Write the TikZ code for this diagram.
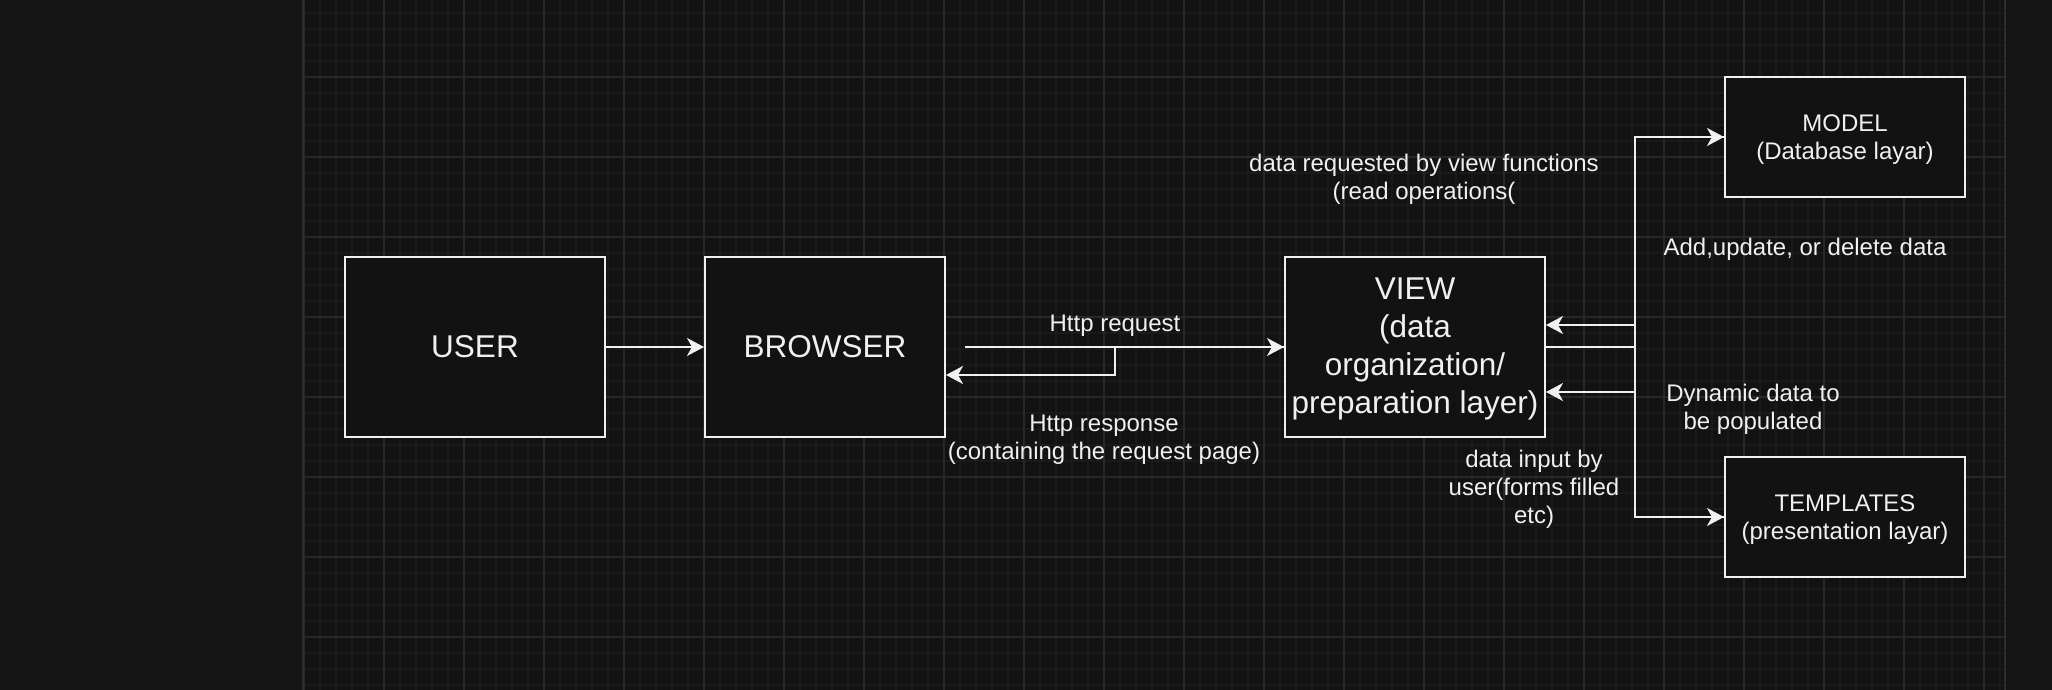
\documentclass[tikz,border=0pt]{standalone}
\usepackage{fontspec}
\setmainfont{Liberation Sans}
\usetikzlibrary{arrows.meta}
\definecolor{outerbg}{HTML}{151515}
\definecolor{canvasbg}{HTML}{121212}
\definecolor{majorgrid}{HTML}{282828}
\definecolor{minorgrid}{HTML}{1A1A1A}
\definecolor{edgeline}{HTML}{2E2E2E}
\definecolor{ink}{HTML}{F0F0F0}
\tikzset{
  box/.style={draw=ink, fill=canvasbg, line width=1pt, inner sep=0pt, text=ink, align=center},
  bigtext/.style={font=\fontsize{15.75}{19}\selectfont},
  smalltext/.style={font=\fontsize{12}{14}\selectfont},
  lbl/.style={smalltext, text=ink, align=center, inner sep=0pt},
  boxtext/.style={text=ink, align=center, inner sep=0pt},
  conn/.style={draw=ink, line width=1pt, -{Stealth[length=8.5pt, width=9pt, inset=2.5pt]}},
}
\begin{document}
\begin{tikzpicture}[x=0.5pt, y=-0.5pt]
\useasboundingbox (0,0) rectangle (2052,690);
\fill[outerbg] (0,0) rectangle (2052,690);
\fill[canvasbg] (303,0) rectangle (2005,690);
\begin{scope}
  \clip (303,0) rectangle (2005,690);
  \foreach \x in {304,320,...,2004} \draw[minorgrid, line width=0.6pt] (\x,0) -- (\x,690);
  \foreach \y in {13,29,...,690} \draw[minorgrid, line width=0.6pt] (303,\y) -- (2005,\y);
  \foreach \x in {304,384,...,2004} \draw[majorgrid, line width=0.7pt] (\x,0) -- (\x,690);
  \foreach \y in {77,157,...,690} \draw[majorgrid, line width=0.7pt] (303,\y) -- (2005,\y);
\end{scope}
\draw[edgeline, line width=1.3pt] (303,0) -- (303,690);
\draw[edgeline, line width=1.3pt] (2005,0) -- (2005,690);

% nodes
\node[box, bigtext, minimum width=130pt, minimum height=90pt] (user) at (475,347) {USER};
\node[box, bigtext, minimum width=120pt, minimum height=90pt] (browser) at (825,347) {BROWSER};
\node[box, minimum width=130pt, minimum height=90pt] (view) at (1415,347) {};
\node[boxtext, bigtext] (viewtext) at ([yshift=-0.9pt]view.center) {VIEW\\(data\\organization/\\preparation layer)};
\node[box, minimum width=120pt, minimum height=60pt] (model) at (1845,137) {};
\node[boxtext, smalltext] (modeltext) at ([yshift=-1.2pt]model.center) {MODEL\\(Database layar)};
\node[box, minimum width=120pt, minimum height=60pt] (templates) at (1845,517) {};
\node[boxtext, smalltext] (templatestext) at ([yshift=-1.2pt]templates.center) {TEMPLATES\\(presentation layar)};

% connectors
\coordinate (reqstart) at (965,347);
\coordinate (respbend) at (1115,347);
\coordinate (resplow) at (1115,375);
\coordinate (trunk) at (1635,347);
\coordinate (mback) at (1635,325);
\coordinate (tback) at (1635,392);

\draw[conn] (user.east) -- (browser.west);
\draw[conn] (reqstart) -- (view.west);
\draw[conn] (view.west) -- (respbend) -- (resplow) -- (browser.east |- resplow);
\draw[conn] (view.east) -- (trunk) |- (model.west);
\draw[conn] (view.east) -- (trunk) |- (templates.west);
\draw[conn] (model.west) -| (mback) -- (view.east |- mback);
\draw[conn] (templates.west) -| (tback) -- (view.east |- tback);

% labels
\node[lbl] (lreq) at (1115,325.5) {Http request};
\node[lbl] (lresp) at (1104,439.5) {Http response\\(containing the request page)};
\node[lbl] (lread) at (1424,179.5) {data requested by view functions\\(read operations(};
\node[lbl] (ladd) at (1805,249.5) {Add,update, or delete data};
\node[lbl] (ldyn) at (1753,409) {Dynamic data to\\be populated};
\node[lbl] (linput) at (1534,489) {data input by\\user(forms filled\\etc)};
\end{tikzpicture}
\end{document}
